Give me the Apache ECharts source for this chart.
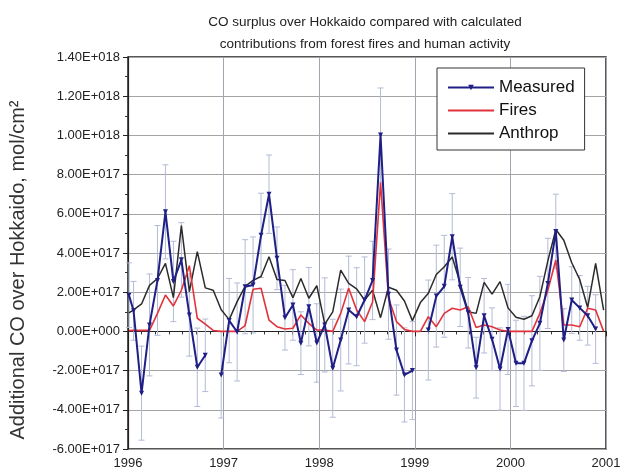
<!DOCTYPE html>
<html>
<head>
<meta charset="utf-8">
<title>CO surplus over Hokkaido</title>
<script src="https://cdn.jsdelivr.net/npm/echarts@6/dist/echarts.min.js"></script>
<style>
  html, body { margin: 0; padding: 0; background: #fff; }
  #chart { width: 624px; height: 474px; }
</style>
</head>
<body>
<div id="chart"></div>
<script>
  // all values in units of 1E+017 mol/cm2
  // first sample sits right at the start of 1996, then one sample per month
  var startTime = 1996.01;
  var monthCount = 60;

  var measured = [1.85,
    1.05, -3.15, 0.33, 2.6, 6.1, 2.55, 3.65, 0.84, -1.83, -1.22, null, -2.22,
    0.55, -0.03, 2.28, 2.37, 4.9, 7.0, 3.73, 0.7, 1.35, -0.6, 1.26, -0.59,
    0.33, -1.88, -0.44, 1.09, 0.75, 1.6, 2.6, 10.02, 1.9, -0.95, -2.22, -2.0,
    null, 0.07, 1.8, 2.3, 4.83, 2.25, 0.95, -1.85, 0.8, -0.4, -1.92, 0.1,
    -1.63, -1.63, -0.48, 0.41, 2.45, 5.1, -0.44, 1.6, 1.2, 0.8, 0.12, null];

  var measuredErr = [1.65,
    1.5, 2.4, 2.6, 2.8, 2.4, 2.05, 1.9, 2.1, 2.0, 1.85, null, 2.2,
    2.15, 2.5, 2.4, 2.45, 2.15, 2.0, 1.6, 1.65, 1.8, 1.6, 2.0, 2.0,
    2.4, 2.5, 2.6, 2.75, 2.5, 2.2, 2.0, 2.4, 2.3, 2.3, 2.4, 2.5,
    null, 2.55, 2.6, 2.6, 2.2, 2.0, 1.8, 1.55, 1.9, 1.6, 2.1, 2.3,
    2.2, 2.4, 2.3, 2.4, 2.3, 1.9, 1.6, 1.7, 1.65, 1.5, 1.75, null];

  var fires = [0.04,
    0.05, 0.05, 0.05, 0.92, 1.86, 1.3, 2.1, 3.35, 0.67, 0.37, 0.05, 0,
    0, 0, 0.3, 2.15, 2.2, 0.57, 0.24, 0.12, 0.16, 0.84, 0.41, 0.07,
    0.07, 0, 0.92, 2.2, 1.09, 0.5, 1.5, 7.6, 1.7, 0.5, 0.1, 0,
    0, 0.75, 0.24, 0.92, 1.18, 1.09, 1.26, 0.2, 0.33, 0.24, 0.07, 0,
    0, 0, 0, 0.92, 2.1, 3.64, 0.33, 0.33, 0.24, 1.18, 1.09, 0];

  var anthrop = [0.95,
    1.1, 1.4, 2.35, 2.7, 3.47, 1.72, 5.4, 2.03, 4.07, 2.22, 2.1, 1.1,
    0.6, 1.52, 2.3, 2.6, 2.8, 3.81, 2.65, 2.6, 1.72, 2.7, 1.69, 2.33,
    0.37, 1.0, 3.13, 2.45, 2.17, 1.6, 2.1, 0.7, 2.25, 2.1, 1.55, 0.55,
    1.47, 1.95, 2.9, 3.3, 3.8, 2.45, 1.0, 0.92, 2.5, 1.9, 2.54, 1.2,
    0.72, 0.62, 0.8, 1.77, 3.6, 5.2, 4.65, 3.5, 2.65, 1.22, 3.47, 1.09];

  var yearTicks = [1996, 1997, 1998, 1999, 2000, 2001];

  var times = [startTime];
  for (var i = 0; i < monthCount; i++) {
    times.push(1996 + (i + 0.7) / 12);
  }

  function pairs(values) {
    return values.map(function (v, i) {
      return [times[i], v === null ? '-' : v];
    });
  }

  var errData = [];
  measured.forEach(function (v, i) {
    if (v === null) return;
    errData.push([times[i], v - measuredErr[i], v + measuredErr[i]]);
  });

  // 2 -> "2.00E+017"
  function sciLabel(v) {
    if (v === 0) return '0.00E+000';
    var exp = Math.floor(Math.log10(Math.abs(v)) + 1e-9) + 17;
    var mant = v / Math.pow(10, exp - 17);
    var e = String(exp);
    while (e.length < 3) e = '0' + e;
    return mant.toFixed(2) + 'E+' + e;
  }

  var errColor = '#b3bbd6';
  var font = 'Liberation Sans';

  var chart = echarts.init(document.getElementById('chart'));
  chart.setOption({
    backgroundColor: '#fff',
    animation: false,
    textStyle: { fontFamily: font },
    title: {
      text: 'CO surplus over Hokkaido compared with calculated\ncontributions from forest fires and human activity',
      left: 360,
      top: 6,
      textAlign: 'center',
      textStyle: { fontSize: 13.5, fontWeight: 'normal', color: '#222', lineHeight: 22, fontFamily: font }
    },
    legend: {
      data: [
        { name: 'Measured' },
        { name: 'Fires', itemStyle: { opacity: 0 } },
        { name: 'Anthrop', itemStyle: { opacity: 0 } }
      ],
      orient: 'vertical',
      left: 437,
      top: 68,
      padding: [11, 10, 8, 10],
      itemWidth: 46,
      itemHeight: 7,
      itemGap: 6,
      backgroundColor: '#fff',
      borderColor: '#333',
      borderWidth: 1,
      textStyle: { fontSize: 17, color: '#111', fontFamily: font }
    },
    grid: {
      left: 126,
      right: 18,
      top: 57,
      bottom: 25,
      show: true,
      borderColor: '#222',
      borderWidth: 1.5
    },
    xAxis: {
      type: 'value',
      min: yearTicks[0],
      max: yearTicks[yearTicks.length - 1],
      interval: 1,
      axisLine: { lineStyle: { color: '#222', width: 1.2 } },
      axisTick: { length: 5, lineStyle: { color: '#222' } },
      minorTick: { show: true, splitNumber: 7, length: 3, lineStyle: { color: '#333' } },
      splitLine: { show: true, lineStyle: { color: '#a4a4b0', width: 1 } },
      axisLabel: { fontSize: 13, color: '#222', margin: 8, formatter: function (v) { return String(v); } }
    },
    yAxis: {
      type: 'value',
      min: -6,
      max: 14,
      interval: 2,
      name: 'Additional CO over Hokkaido, mol/cm\u00b2',
      nameLocation: 'middle',
      nameRotate: 90,
      nameGap: 100,
      nameTextStyle: { fontSize: 20, color: '#333', fontFamily: font, padding: [0, 34, 0, 0] },
      axisLine: { show: true, lineStyle: { color: '#222', width: 1.2 } },
      axisTick: { length: 5, lineStyle: { color: '#222' } },
      minorTick: { show: true, splitNumber: 2, length: 3, lineStyle: { color: '#333' } },
      splitLine: { show: true, lineStyle: { color: '#a4a4a4', width: 1 } },
      axisLabel: { fontSize: 13, color: '#222', margin: 8, formatter: sciLabel }
    },
    series: [
      {
        name: 'errors',
        type: 'custom',
        data: errData,
        encode: { x: 0, y: [1, 2] },
        z: 1,
        silent: true,
        renderItem: function (params, api) {
          var top = api.coord([api.value(0), api.value(2)]);
          var bottom = api.coord([api.value(0), api.value(1)]);
          var half = 3;
          var style = { stroke: errColor, lineWidth: 1 };
          return {
            type: 'group',
            children: [
              { type: 'line', shape: { x1: top[0], y1: top[1], x2: bottom[0], y2: bottom[1] }, style: style },
              { type: 'line', shape: { x1: top[0] - half, y1: top[1], x2: top[0] + half, y2: top[1] }, style: style },
              { type: 'line', shape: { x1: bottom[0] - half, y1: bottom[1], x2: bottom[0] + half, y2: bottom[1] }, style: style }
            ]
          };
        }
      },
      {
        name: 'Anthrop',
        type: 'line',
        data: pairs(anthrop),
        z: 3,
        symbol: 'none',
        lineStyle: { color: '#2b2b2b', width: 1.5 },
        itemStyle: { color: '#2b2b2b' }
      },
      {
        name: 'Fires',
        type: 'line',
        data: pairs(fires),
        z: 4,
        symbol: 'none',
        lineStyle: { color: '#e0333b', width: 1.6 },
        itemStyle: { color: '#e0333b' }
      },
      {
        name: 'Measured',
        type: 'line',
        data: pairs(measured),
        z: 5,
        connectNulls: false,
        symbol: 'triangle',
        symbolRotate: 180,
        symbolSize: 5,
        lineStyle: { color: '#1f1f86', width: 2 },
        itemStyle: { color: '#1f1f86' }
      }
    ]
  });
</script>
</body>
</html>
